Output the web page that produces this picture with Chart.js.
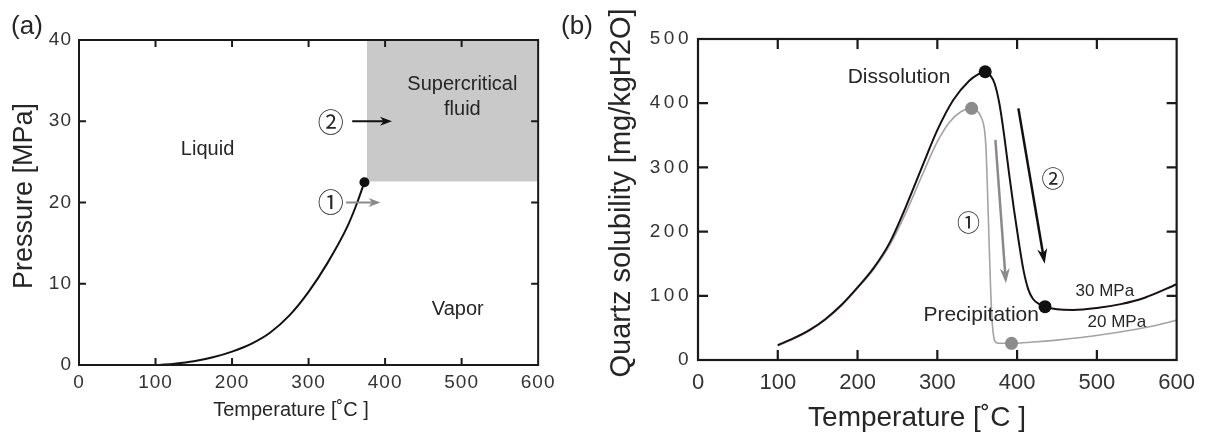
<!DOCTYPE html>
<html>
<head>
<meta charset="utf-8">
<script src="https://cdn.jsdelivr.net/npm/chart.js@4.4.0/dist/chart.umd.min.js"></script>
<style>
  html, body { margin: 0; padding: 0; background: #fff; }
  #wrap { position: relative; width: 1205px; height: 435px; }
  #chartA { position: absolute; left: 0; top: 0; }
  #chartB { position: absolute; left: 560px; top: 0; }
</style>
</head>
<body>
<div id="wrap">
  <canvas id="chartA" width="560" height="435"></canvas>
  <canvas id="chartB" width="645" height="435"></canvas>
</div>
<script>
// ---- (a) diagrama de fases del agua ----
const tempTicksA = [0, 100, 200, 300, 400, 500, 600];
const pressTicksA = [0, 10, 20, 30, 40];
const satTemp = [105, 125, 150, 175, 200, 225, 250, 275, 300, 325, 350, 362, 373];
const satPress = [0, 0.15, 0.45, 0.95, 1.65, 2.6, 4.0, 6.1, 9.0, 12.6, 16.9, 19.6, 22.5];
const criticalTemp = [373];
const criticalPress = [22.5];
const superTemp = [376, 600];
const superPress = [22.6, 22.6];

// ---- (b) solubilidad del cuarzo ----
const tempTicksB = [0, 100, 200, 300, 400, 500, 600];
const solTicksB = [0, 100, 200, 300, 400, 500];
const temp30 = [100, 120, 140, 160, 180, 200, 220, 240, 260, 280, 300, 320, 340, 350, 360, 366, 372, 378, 384, 390, 396, 402, 408, 414, 420, 428, 435, 450, 470, 500, 530, 560, 600];
const sol30 = [23, 34, 47, 64, 86, 113, 143, 182, 237, 298, 358, 405, 435, 444, 449, 444, 430, 398, 348, 290, 235, 185, 140, 110, 95, 87, 83, 79, 78, 81, 87, 97, 118];
const temp20 = [100, 120, 140, 160, 180, 200, 220, 240, 260, 280, 300, 315, 330, 343, 350, 355, 359, 361, 363, 365, 367, 369, 371, 374, 380, 393, 420, 450, 480, 510, 540, 570, 600];
const sol20 = [22, 33, 46, 63, 85, 112, 141, 178, 228, 285, 340, 370, 387, 392, 388, 378, 360, 330, 260, 180, 104, 55, 34, 27, 26, 26, 28, 31, 35, 40, 46, 53, 62];
const dots30Temp = [360, 435];
const dots30Sol = [449, 83];
const dots20Temp = [343, 393];
const dots20Sol = [392, 26];

const zip = (xs, ys) => xs.map((v, i) => ({ x: v, y: ys[i] }));
const SANS = '"Liberation Sans", Arial, sans-serif';
const CIRC = '"Noto Sans CJK JP", "DejaVu Sans", sans-serif';

function drawArrow(ctx, x1, y1, x2, y2, color, w, headLen, headW) {
  const ang = Math.atan2(y2 - y1, x2 - x1);
  const len = Math.hypot(x2 - x1, y2 - y1);
  ctx.save();
  ctx.translate(x2, y2);
  ctx.rotate(ang);
  ctx.strokeStyle = color;
  ctx.lineWidth = w;
  ctx.beginPath();
  ctx.moveTo(-len, 0);
  ctx.lineTo(-headLen * 0.6, 0);
  ctx.stroke();
  ctx.fillStyle = color;
  ctx.beginPath();
  ctx.moveTo(0, 0);
  ctx.lineTo(-headLen, -headW / 2);
  ctx.lineTo(-headLen * 0.7, 0);
  ctx.lineTo(-headLen, headW / 2);
  ctx.closePath();
  ctx.fill();
  ctx.restore();
}

// Marco con marcas hacia adentro, flechas y textos
const decorPlugin = {
  id: 'decor',
  afterDatasetsDraw(chart, args, opts) {
    const { ctx, chartArea: a, scales: { x, y } } = chart;
    ctx.save();
    ctx.strokeStyle = '#1a1a1a';
    ctx.lineWidth = opts.frameWidth;
    ctx.strokeRect(a.left, a.top, a.right - a.left, a.bottom - a.top);

    const L = opts.tickLen;
    ctx.beginPath();
    opts.ticksBottom.forEach(v => { const p = x.getPixelForValue(v); ctx.moveTo(p, a.bottom); ctx.lineTo(p, a.bottom - L); });
    opts.ticksTop.forEach(v => { const p = x.getPixelForValue(v); ctx.moveTo(p, a.top); ctx.lineTo(p, a.top + L); });
    opts.ticksLeft.forEach(v => { const p = y.getPixelForValue(v); ctx.moveTo(a.left, p); ctx.lineTo(a.left + L, p); });
    opts.ticksRight.forEach(v => { const p = y.getPixelForValue(v); ctx.moveTo(a.right, p); ctx.lineTo(a.right - L, p); });
    ctx.stroke();

    opts.arrows.forEach(ar => {
      drawArrow(ctx, x.getPixelForValue(ar.x1), y.getPixelForValue(ar.y1),
        x.getPixelForValue(ar.x2), y.getPixelForValue(ar.y2),
        ar.color, ar.width, ar.headLen, ar.headW);
    });

    ctx.textAlign = 'center';
    ctx.textBaseline = 'middle';
    opts.labels.forEach(l => {
      ctx.font = l.font;
      ctx.fillStyle = l.color || '#262626';
      ctx.fillText(l.text, x.getPixelForValue(l.x), y.getPixelForValue(l.y));
    });

    opts.titles.forEach(t => {
      ctx.save();
      ctx.translate(t.px, t.py);
      ctx.rotate(t.rot || 0);
      ctx.font = t.font;
      ctx.fillStyle = '#262626';
      ctx.fillText(t.text, 0, 0);
      ctx.restore();
    });
    ctx.restore();
    // espaciado de las etiquetas de los ejes (se dibujan después, ticks.z = 1)
    ctx.letterSpacing = opts.tickLetterSpacing || '0px';
  },
  afterDraw(chart) {
    chart.ctx.letterSpacing = '0px';
  }
};

function makeScales(cfg) {
  return {
    x: {
      type: 'linear', min: cfg.xMin, max: cfg.xMax,
      afterBuildTicks: s => { s.ticks = cfg.xTicks.map(v => ({ value: v })); },
      afterFit: s => { s.height = cfg.xHeight; },
      grid: { display: false, drawTicks: false },
      border: { display: false },
      ticks: { z: cfg.xZ, padding: cfg.xPad, color: '#333', autoSkip: false, maxRotation: 0,
        font: { family: SANS, size: cfg.xFont } }
    },
    y: {
      type: 'linear', min: cfg.yMin, max: cfg.yMax,
      afterBuildTicks: s => { s.ticks = cfg.yTicks.map(v => ({ value: v })); },
      afterFit: s => { s.width = cfg.yWidth; },
      grid: { display: false, drawTicks: false },
      border: { display: false },
      ticks: { z: 1, padding: cfg.yPad, color: '#333', autoSkip: false,
        font: { family: SANS, size: cfg.yFont } }
    }
  };
}

const baseOptions = {
  responsive: false,
  animation: false,
  devicePixelRatio: 1,
  events: []
};

// ---------- (a) ----------
new Chart(document.getElementById('chartA'), {
  type: 'scatter',
  plugins: [decorPlugin],
  data: {
    datasets: [
      { data: zip(criticalTemp, criticalPress), pointRadius: 5, pointBackgroundColor: '#111',
        pointBorderWidth: 0, order: 0 },
      { data: zip(satTemp, satPress), showLine: true, borderColor: '#111', borderWidth: 2,
        pointRadius: 0, cubicInterpolationMode: 'monotone', order: 1 },
      { data: zip(superTemp, superPress), showLine: true, borderWidth: 0, pointRadius: 0,
        fill: 'end', backgroundColor: '#c9c9c9', order: 3 }
    ]
  },
  options: {
    ...baseOptions,
    layout: { padding: { top: 40, right: 20, left: 0, bottom: 0 } },
    scales: makeScales({ xMin: 0, xMax: 600, xTicks: tempTicksA, xHeight: 70, xPad: 6, xFont: 19, xZ: 1,
      yMin: 0, yMax: 40, yTicks: pressTicksA, yWidth: 79, yPad: 7, yFont: 19 }),
    plugins: {
      legend: { display: false },
      tooltip: { enabled: false },
      decor: {
        frameWidth: 2, tickLen: 7, tickLetterSpacing: '1px',
        ticksBottom: [100, 200, 300, 400, 500], ticksTop: [100, 200, 300, 400, 500],
        ticksLeft: [10, 20, 30], ticksRight: [10, 20, 30],
        arrows: [
          { x1: 357, y1: 30, x2: 409, y2: 30, color: '#111', width: 2, headLen: 12, headW: 9 },
          { x1: 349, y1: 20, x2: 394, y2: 20, color: '#8a8a8a', width: 2, headLen: 12, headW: 9 }
        ],
        labels: [
          { text: 'Liquid', x: 168, y: 26.5, font: '20px ' + SANS },
          { text: 'Supercritical', x: 501, y: 34.5, font: '20px ' + SANS },
          { text: 'fluid', x: 501, y: 31.5, font: '20px ' + SANS },
          { text: 'Vapor', x: 495, y: 6.8, font: '20px ' + SANS },
          { text: '②', x: 329, y: 29.9, font: '26px ' + CIRC },
          { text: '①', x: 329, y: 20.1, font: '26px ' + CIRC }
        ],
        titles: [
          { text: '(a)', px: 27, py: 27, font: '26px ' + SANS },
          { text: 'Temperature [˚C ]', px: 291, py: 410, font: '20px ' + SANS },
          { text: 'Pressure [MPa]', px: 25, py: 196, rot: -Math.PI / 2, font: '27px ' + SANS }
        ]
      }
    }
  }
});

// ---------- (b) ----------
new Chart(document.getElementById('chartB'), {
  type: 'scatter',
  plugins: [decorPlugin],
  data: {
    datasets: [
      { data: zip(dots30Temp, dots30Sol), pointRadius: 6.5, pointBackgroundColor: '#111',
        pointBorderWidth: 0, order: 0 },
      { data: zip(dots20Temp, dots20Sol), pointRadius: 6.5, pointBackgroundColor: '#8c8c8c',
        pointBorderWidth: 0, order: 0 },
      { label: '30 MPa', data: zip(temp30, sol30), showLine: true, borderColor: '#1a1010', borderWidth: 2,
        pointRadius: 0, cubicInterpolationMode: 'monotone', order: 1 },
      { label: '20 MPa', data: zip(temp20, sol20), showLine: true, borderColor: '#a3a3a3', borderWidth: 1.6,
        pointRadius: 0, cubicInterpolationMode: 'monotone', order: 2 }
    ]
  },
  options: {
    ...baseOptions,
    layout: { padding: { top: 39, right: 22, left: 0, bottom: 0 } },
    scales: makeScales({ xMin: 0, xMax: 600, xTicks: tempTicksB, xHeight: 75, xPad: 10, xFont: 22, xZ: 0,
      yMin: 0, yMax: 500, yTicks: solTicksB, yWidth: 138, yPad: 6, yFont: 19 }),
    plugins: {
      legend: { display: false },
      tooltip: { enabled: false },
      decor: {
        frameWidth: 2.2, tickLen: 10, tickLetterSpacing: '3.5px',
        ticksBottom: [100, 200, 300, 400, 500], ticksTop: [100, 200, 300, 400, 500],
        ticksLeft: [100, 200, 300, 400], ticksRight: [100, 200, 300, 400],
        arrows: [
          { x1: 401.6, y1: 392, x2: 434.6, y2: 150, color: '#111', width: 2.5, headLen: 15, headW: 10 },
          { x1: 372.8, y1: 343, x2: 386, y2: 119.5, color: '#8a8a8a', width: 2.5, headLen: 15, headW: 10 }
        ],
        labels: [
          { text: 'Dissolution', x: 252, y: 440, font: '21px ' + SANS },
          { text: 'Precipitation', x: 355, y: 69, font: '21px ' + SANS },
          { text: '30 MPa', x: 510, y: 107.5, font: '17px ' + SANS },
          { text: '20 MPa', x: 525, y: 59, font: '17px ' + SANS },
          { text: '②', x: 445, y: 283, font: '23px ' + CIRC },
          { text: '①', x: 339, y: 215, font: '23px ' + CIRC }
        ],
        titles: [
          { text: '(b)', px: 17, py: 27, font: '26px ' + SANS },
          { text: 'Temperature [˚C ]', px: 357, py: 418, font: '28px ' + SANS },
          { text: 'Quartz solubility [mg/kgH2O]', px: 62, py: 193, rot: -Math.PI / 2, font: '29px ' + SANS }
        ]
      }
    }
  }
});
</script>
</body>
</html>
